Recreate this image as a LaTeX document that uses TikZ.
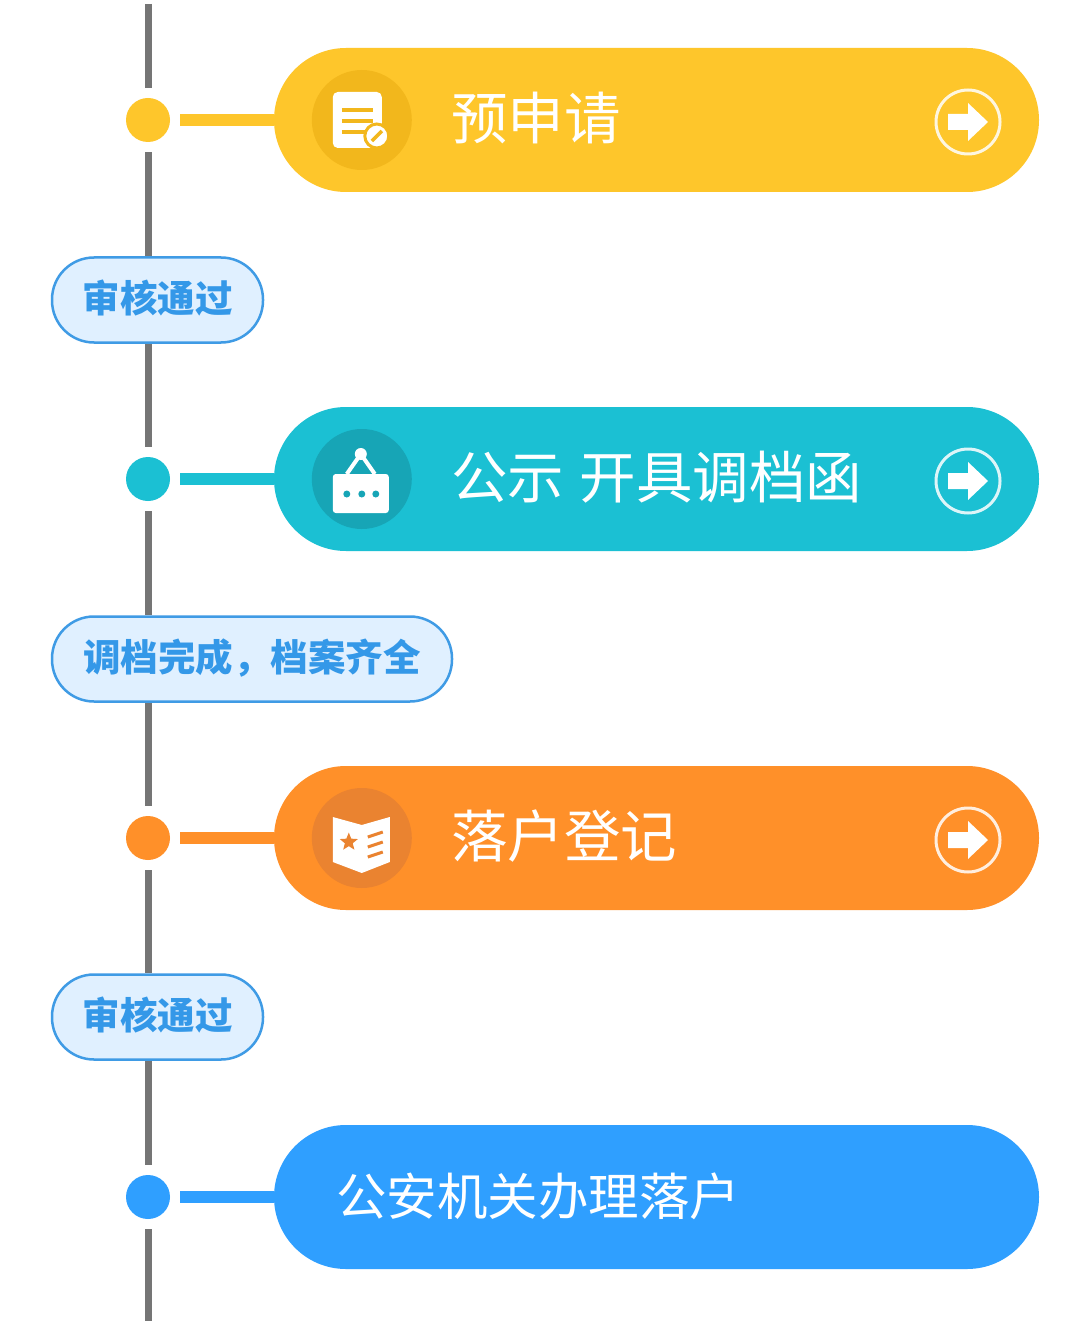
\documentclass[tikz,border=0pt]{standalone}
\usepackage{fontspec}
\usepackage{tikz}
\usetikzlibrary{positioning,shapes.geometric}
\newfontfamily\cjk{Noto Sans CJK SC}
\definecolor{fillyellow}{HTML}{FEC62B}
\definecolor{fillteal}{HTML}{1BC0D3}
\definecolor{fillorange}{HTML}{FF9029}
\definecolor{fillblue}{HTML}{2F9FFF}
\definecolor{darkyellow}{HTML}{F2B71C}
\definecolor{darkteal}{HTML}{17A5B6}
\definecolor{darkorange}{HTML}{EA8330}
\definecolor{tagfill}{HTML}{E0F0FF}
\definecolor{tagline}{HTML}{3F9BE5}
\definecolor{tagtext}{HTML}{3498E8}
\definecolor{railgrey}{HTML}{757575}
\tikzset{
  dotmark/.style={circle,inner sep=0pt,minimum size=44pt},
  flowbox/.style={rounded corners=72pt,inner sep=0pt,minimum width=765pt,minimum height=144pt},
  flowtext/.style={anchor=west,inner sep=0pt,text=white,font=\cjk\fontsize{56.5pt}{60pt}\selectfont},
  badge/.style={circle,inner sep=0pt,minimum size=100pt},
  tagbox/.style={draw=tagline,line width=2.5pt,fill=tagfill,rounded corners=42pt,inner sep=0pt,minimum height=85pt,text height=33pt,text depth=8pt,text=tagtext,font=\cjk\bfseries\fontsize{37.5pt}{40pt}\selectfont},
  rail/.style={draw=railgrey,line width=7pt},
  stem/.style={line width=12pt,shorten <=10pt}
}
\begin{document}
\begin{tikzpicture}[x=1pt,y=1pt,node distance=359pt,on grid]
  \useasboundingbox[fill=white] (0,0) rectangle (1080,-1321);
  \coordinate (railtop) at (148,-4);
  \coordinate (railend) at (148,-1321);
  % dots
  \node[dotmark,fill=fillyellow] (dota) at (148,-120) {};
  \node[dotmark,fill=fillteal] (dotb) [below = of dota] {};
  \node[dotmark,fill=fillorange] (dotc) [below = of dotb] {};
  \node[dotmark,fill=fillblue] (dotd) [below = of dotc] {};
  % boxes
  \node[flowbox,fill=fillyellow] (boxa) [right = 508.5pt of dota] {};
  \node[flowbox,fill=fillteal] (boxb) [right = 508.5pt of dotb] {};
  \node[flowbox,fill=fillorange] (boxc) [right = 508.5pt of dotc] {};
  \node[flowbox,fill=fillblue] (boxd) [right = 508.5pt of dotd] {};
  \node[flowtext] (texta) at ([xshift=177pt,yshift=2pt]boxa.west) {预申请};
  \node[flowtext] (textb) at ([xshift=177pt,yshift=2pt]boxb.west) {公示\hspace{3pt} 开具调档函};
  \node[flowtext] (textc) at ([xshift=177pt,yshift=2pt]boxc.west) {落户登记};
  \node[flowtext,font=\cjk\fontsize{50.5pt}{54pt}\selectfont] (textd) at ([xshift=62pt,yshift=1pt]boxd.west) {公安机关办理落户};
  % tags
  \node[tagbox,minimum width=211pt] (taga) [below = 180pt of dota,xshift=9.5pt] {审核通过};
  \node[tagbox,minimum width=400pt] (tagb) [below = 180pt of dotb,xshift=104pt] {调档完成^^^^ff0c档案齐全};
  \node[tagbox,minimum width=211pt] (tagc) [below = 179pt of dotc,xshift=9.5pt] {审核通过};
  % rail
  \path[rail,shorten >=10pt] (railtop) -- (dota);
  \path[rail,shorten <=10pt] (dota) -- (taga.north -| dota);
  \path[rail,shorten >=10pt] (taga.south -| dota) -- (dotb);
  \path[rail,shorten <=10pt] (dotb) -- (tagb.north -| dotb);
  \path[rail,shorten >=10pt] (tagb.south -| dotb) -- (dotc);
  \path[rail,shorten <=10pt] (dotc) -- (tagc.north -| dotc);
  \path[rail,shorten >=10pt] (tagc.south -| dotc) -- (dotd);
  \path[rail,shorten <=10pt] (dotd) -- (railend);
  % stems
  \draw[stem,fillyellow] (dota) -- (boxa);
  \draw[stem,fillteal] (dotb) -- (boxb);
  \draw[stem,fillorange] (dotc) -- (boxc);
  \draw[stem,fillblue] (dotd) -- (boxd);
  % badges
  \node[badge,fill=darkyellow] (badgea) at ([xshift=88pt]boxa.west) {};
  \node[badge,fill=darkteal] (badgeb) at ([xshift=88pt]boxb.west) {};
  \node[badge,fill=darkorange] (badgec) at ([xshift=88pt]boxc.west) {};
  % form icon
  \begin{scope}[shift={(badgea)}]
    \fill[white,rounded corners=5pt] (-29,28) rectangle (20,-28);
    \foreach \y in {10,-1,-12}
      \draw[darkyellow,line width=3.5pt] (-20,\y) -- (11,\y);
    \draw[darkyellow,fill=white,line width=3pt] (15,-16) circle (12);
    \draw[darkyellow,line width=3.5pt] (10,-21) -- (20,-11);
  \end{scope}
  % hanging sign icon
  \begin{scope}[shift={(badgeb)}]
    \draw[white,line width=4pt] (-15,5) -- (-1,25) -- (13,5);
    \fill[white] (-1,25) circle (6);
    \fill[white,rounded corners=3pt] (-29,5) rectangle (27,-34);
    \foreach \x in {-15,0,14}
      \fill[darkteal] (\x,-15) circle (3.5);
  \end{scope}
  % book icon
  \begin{scope}[shift={(badgec)}]
    \fill[white] (-29,21) -- (0,13) -- (28,21) -- (28,-24) -- (0,-35) -- (-29,-24) -- cycle;
    \node[star,star points=5,star point ratio=2.3,fill=darkorange,inner sep=0pt,minimum size=19pt] (bookstar) at (-13,-4) {};
    \foreach \y in {1,-9,-19}
      \draw[darkorange,line width=3pt] (6,\y) -- (21,\y+5);
  \end{scope}
  % arrows
  \foreach \n in {a,b,c}{
    \begin{scope}[shift={(box\n)},xshift=311.5pt,yshift=-2pt]
      \draw[white,line width=3pt,opacity=.85] (0,0) circle (32);
      \fill[white] (-20,8) -- (0,8) -- (0,19) -- (20,0) -- (0,-19) -- (0,-8) -- (-20,-8) -- cycle;
    \end{scope}
  }
\end{tikzpicture}
\end{document}
